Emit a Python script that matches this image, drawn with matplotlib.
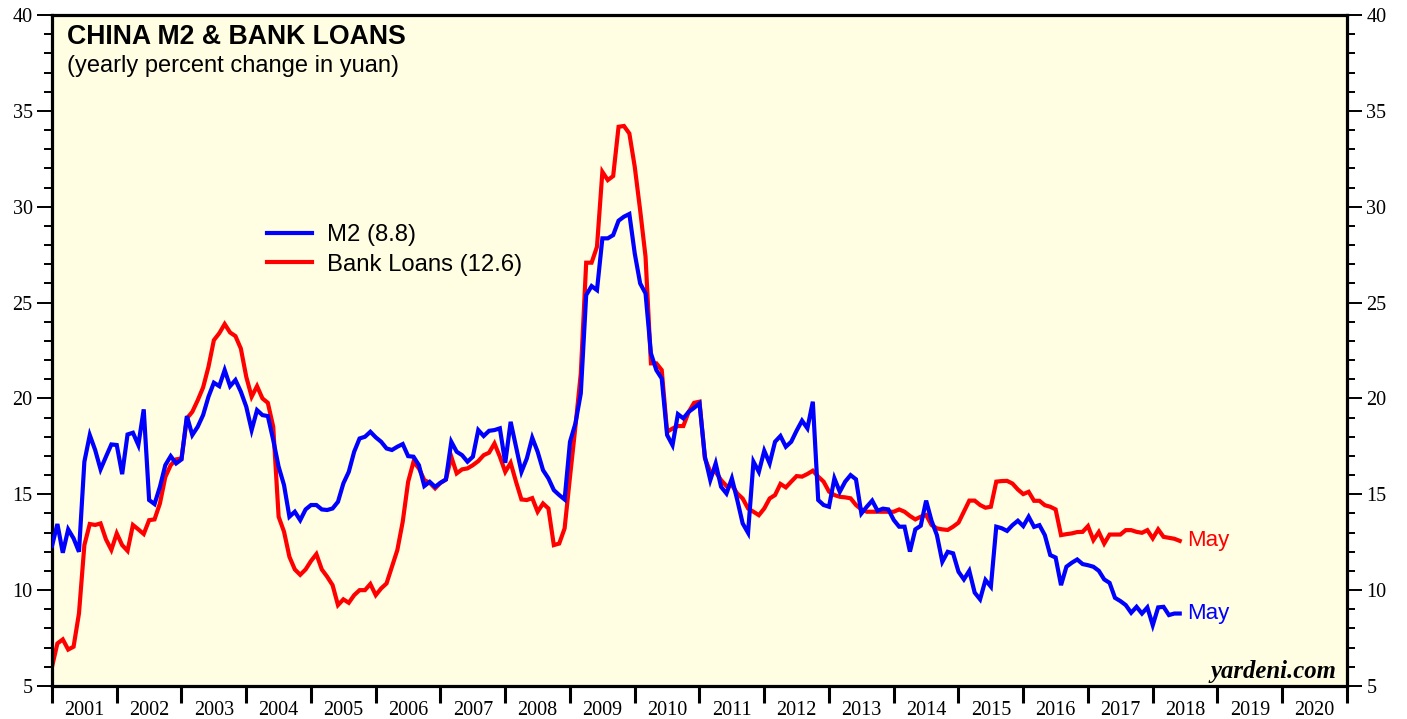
import matplotlib
matplotlib.use("Agg")
import matplotlib.pyplot as plt
from matplotlib.ticker import MultipleLocator, FixedLocator, NullFormatter, FixedFormatter
import numpy as np
import pandas as pd

# Monthly data, Dec 2000 .. May 2018 (yearly % change)
start_month = "2000-12"
m2 = [
    12.3,
    13.45, 11.95, 13.17, 12.7, 12.0, 16.7, 18.09, 17.31, 16.3, 16.96, 17.6, 17.57,
    16.05, 18.12, 18.21, 17.57, 19.43, 14.7, 14.49, 15.39, 16.52, 16.99, 16.61, 16.82,
    19.08, 18.09, 18.52, 19.13, 20.09, 20.82, 20.64, 21.48, 20.64, 20.96, 20.35, 19.57,
    18.35, 19.39, 19.13, 19.08, 17.83, 16.44, 15.48, 13.83, 14.09, 13.65, 14.21, 14.44,
    14.44, 14.21, 14.18, 14.26, 14.61, 15.57, 16.17, 17.22, 17.91, 18.0, 18.26, 17.97,
    17.74, 17.39, 17.31, 17.48, 17.62, 16.99, 16.96, 16.52, 15.43, 15.65, 15.39, 15.6,
    15.77, 17.74, 17.22, 17.04, 16.7, 16.96, 18.35, 18.04, 18.31, 18.35, 18.44, 16.64,
    18.78, 17.48, 16.17, 16.87, 17.95, 17.22, 16.26, 15.83, 15.22, 14.96, 14.73, 17.74,
    18.69, 20.26, 25.39, 25.86, 25.65, 28.35, 28.35, 28.52, 29.27, 29.48, 29.62, 27.56,
    26.0, 25.48, 22.35, 21.48, 21.04, 18.09, 17.56, 19.18, 18.96, 19.3, 19.51, 19.74,
    16.96, 15.74, 16.61, 15.39, 15.04, 15.83, 14.7, 13.48, 12.99, 16.7, 16.17, 17.27,
    16.61, 17.74, 18.04, 17.48, 17.74, 18.32, 18.84, 18.44, 19.83, 14.7, 14.44, 14.35,
    15.83, 15.13, 15.66, 16.0, 15.78, 14.0, 14.35, 14.67, 14.14, 14.25, 14.21, 13.66,
    13.31, 13.31, 12.01, 13.17, 13.36, 14.67, 13.62, 12.87, 11.48, 12.0, 11.92, 10.96,
    10.56, 11.01, 9.87, 9.52, 10.53, 10.18, 13.31, 13.23, 13.09, 13.39, 13.62, 13.34,
    13.83, 13.3, 13.39, 12.87, 11.83, 11.7, 10.26, 11.22, 11.43, 11.6, 11.36, 11.3,
    11.22, 11.01, 10.56, 10.38, 9.6, 9.43, 9.22, 8.82, 9.13, 8.78, 9.1, 8.17,
    9.1, 9.13, 8.7, 8.78, 8.78,
]
bank_loans = [
    6.0,
    7.22, 7.43, 6.9, 7.05, 8.79, 12.35, 13.45, 13.4, 13.48, 12.65, 12.1, 12.96,
    12.35, 12.05, 13.4, 13.17, 12.93, 13.65, 13.69, 14.52, 15.9, 16.52, 16.82, 16.87,
    18.96, 19.3, 19.9, 20.57, 21.65, 23.04, 23.4, 23.88, 23.44, 23.25, 22.6, 21.13,
    20.09, 20.64, 20.0, 19.77, 18.52, 13.83, 13.05, 11.74, 11.08, 10.8, 11.08, 11.52,
    11.88, 11.08, 10.7, 10.26, 9.22, 9.52, 9.34, 9.74, 10.0, 10.0, 10.32, 9.74,
    10.09, 10.35, 11.22, 12.09, 13.57, 15.65, 16.7, 16.35, 15.74, 15.6, 15.31, 15.6,
    15.77, 16.96, 16.09, 16.3, 16.35, 16.52, 16.73, 17.04, 17.17, 17.65, 16.96, 16.17,
    16.64, 15.65, 14.73, 14.7, 14.8, 14.09, 14.52, 14.26, 12.35, 12.43, 13.22, 15.91,
    18.52, 21.3, 27.08, 27.08, 27.91, 31.82, 31.39, 31.6, 34.17, 34.21, 33.82, 32.08,
    29.82, 27.39, 21.83, 21.83, 21.48, 18.26, 18.43, 18.56, 18.56, 19.3, 19.77, 19.83,
    16.87, 16.17, 16.17, 15.74, 15.43, 15.48, 15.04, 14.78, 14.26, 14.09, 13.91, 14.26,
    14.78, 14.96, 15.54, 15.36, 15.66, 15.95, 15.92, 16.06, 16.23, 15.92, 15.66, 15.14,
    14.96, 14.87, 14.84, 14.79, 14.44, 14.21, 14.09, 14.09, 14.09, 14.09, 14.09, 14.09,
    14.21, 14.09, 13.87, 13.69, 13.83, 13.92, 13.4, 13.22, 13.17, 13.14, 13.31, 13.52,
    14.09, 14.67, 14.67, 14.44, 14.3, 14.35, 15.66, 15.69, 15.7, 15.56, 15.25, 15.01,
    15.13, 14.66, 14.66, 14.43, 14.35, 14.21, 12.87, 12.92, 12.96, 13.03, 13.04, 13.34,
    12.61, 13.03, 12.43, 12.9, 12.9, 12.9, 13.13, 13.13, 13.04, 12.99, 13.13, 12.7,
    13.17, 12.78, 12.73, 12.68, 12.57,
]
year_labels = [str(y) for y in range(2001, 2021)]
legend_labels = ["M2 (8.8)", "Bank Loans (12.6)"]
last_label = "May"

dates = pd.date_range(start_month, periods=len(m2), freq="MS")
t = dates.year + dates.month / 12.0

BLUE = "#0000FF"
RED = "#FF0000"
SERIF = ["Liberation Serif", "DejaVu Serif"]
SANS = ["Liberation Sans", "DejaVu Sans"]

W, H = 1407, 719
fig = plt.figure(figsize=(W / 100, H / 100), dpi=100)
ax = fig.add_axes([52 / W, 33 / H, 1295 / W, 671 / H])
ax.set_facecolor("#FFFEE3")

l1, = ax.plot(t, m2, color=BLUE, lw=3.0, solid_joinstyle="miter", label=legend_labels[0], zorder=3)
l2, = ax.plot(t, bank_loans, color=RED, lw=3.0, solid_joinstyle="miter", label=legend_labels[1], zorder=2)

ax.set_xlim(2001, 2021)
ax.set_ylim(5, 40)

for s in ax.spines.values():
    s.set_linewidth(2.3)
    s.set_color("black")

# y ticks both sides
ax.yaxis.set_major_locator(MultipleLocator(5))
ax.yaxis.set_minor_locator(MultipleLocator(1))
ax.tick_params(axis="y", which="major", direction="out", length=11, width=1.4,
               left=True, right=True, labelleft=True, labelright=True, labelsize=14.5, pad=3)
ax.tick_params(axis="y", which="minor", direction="out", length=6, width=1.4,
               left=True, right=True)
for lab in ax.get_yticklabels():
    lab.set_fontfamily(SERIF)

# x ticks: year boundaries, labels centred inside each year
ax.xaxis.set_major_locator(FixedLocator(np.arange(2001, 2022)))
ax.xaxis.set_major_formatter(NullFormatter())
ax.xaxis.set_minor_locator(FixedLocator(np.arange(2001, 2021) + 0.5))
ax.xaxis.set_minor_formatter(FixedFormatter(year_labels))
ax.tick_params(axis="x", which="major", direction="out", length=12, width=2.2, bottom=True, top=False)
ax.tick_params(axis="x", which="minor", length=0, labelsize=14.5, pad=11)
for lab in ax.get_xticklabels(minor=True):
    lab.set_fontfamily(SERIF)

# titles
fig.text(67 / W, 1 - 43.5 / H, "CHINA M2 & BANK LOANS",
         fontsize=19.2, fontweight="bold", family=SANS, va="baseline", ha="left")
fig.text(67 / W, 1 - 72 / H, "(yearly percent change in yuan)",
         fontsize=17, family=SANS, va="baseline", ha="left")

# legend
leg = ax.legend(handles=[l1, l2], loc="upper left", bbox_to_anchor=(267 / W, 1 - 224 / H),
                bbox_transform=fig.transFigure, frameon=False, fontsize=17.2,
                handlelength=1.9, handletextpad=0.6, labelspacing=0.32, borderpad=0, borderaxespad=0)
for txt in leg.get_texts():
    txt.set_fontfamily(SANS)

# end labels
ax.annotate(last_label, xy=(t[-1], bank_loans[-1]), xytext=(5, 0), textcoords="offset points",
            color=RED, fontsize=16, family=SANS, va="center", ha="left")
ax.annotate(last_label, xy=(t[-1], m2[-1]), xytext=(5, 0), textcoords="offset points",
            color=BLUE, fontsize=16, family=SANS, va="center", ha="left")

# source
fig.text(1336 / W, 1 - 678 / H, "yardeni.com", ha="right", va="baseline",
         fontsize=17.8, family=SERIF, fontweight="bold", fontstyle="italic")

fig.savefig("out.png", dpi=100)
